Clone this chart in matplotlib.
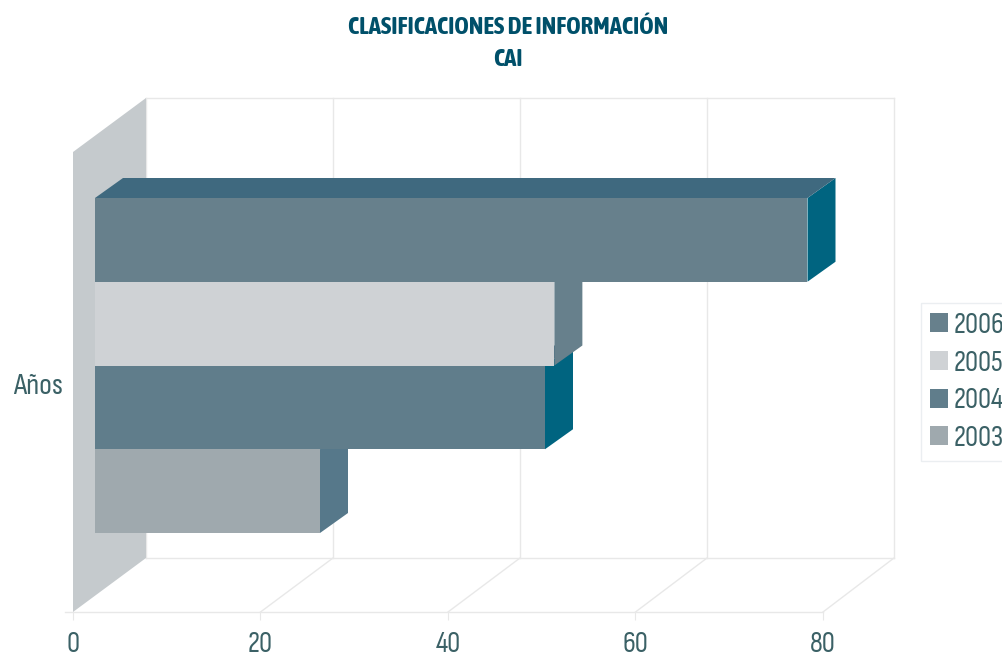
import matplotlib
matplotlib.use("Agg")
import logging
logging.getLogger("matplotlib.font_manager").setLevel(logging.ERROR)
import matplotlib.pyplot as plt
from matplotlib.patches import Polygon, Patch

years = ["2003", "2004", "2005", "2006"]
values = [24, 48, 49, 76]
front_colors = ["#9fa9ae", "#607d8b", "#cfd2d5", "#67808c"]
side_colors = ["#56788a", "#006480", "#67808c", "#006480"]
top_color = "#3f697f"
wall_color = "#c5cacd"
grid_color = "#e8e8e8"
text_color = "#3b6166"
title_color = "#00506a"
x_ticks = [0, 20, 40, 60, 80]
category_label = "Años"
title_lines = ["CLASIFICACIONES DE INFORMACIÓN", "CAI"]

W, H = 1003, 656
FONT = ["Sofia Sans Condensed", "Roboto Condensed", "Liberation Sans", "DejaVu Sans"]
TITLE_FONT = ["Asap Condensed", "Roboto Condensed", "Liberation Sans", "DejaVu Sans"]
fig = plt.figure(figsize=(W / 100, H / 100), dpi=100, facecolor="white")
ax = fig.add_axes([73 / W, 1 - 612 / H, 750 / W, 514 / H])
BAND = 83.75
UX = 750 / 80
ax.set_xlim(0, 80)
ax.set_ylim(-(612 - 533) / BAND, (533 - 98) / BAND)
for s in ax.spines.values():
    s.set_visible(False)

start = 22 / UX
dx, dy = 28 / UX, 20 / BAND
fdx, fdy = 73 / UX, 54 / BAND
y_floor, y_top = ax.get_ylim()
ytop_front = y_top - fdy

def poly(pts, color, z):
    ax.add_patch(Polygon(pts, closed=True, fc=color, ec="none", clip_on=False, zorder=z))

def gl(xs, ys):
    ax.plot(xs, ys, color=grid_color, lw=1, clip_on=False, zorder=1)

def back(t):
    return t * 748 / 750 + fdx

# walls, floor and grid
poly([(0, y_floor), (fdx, y_floor + fdy), (fdx, y_top), (0, ytop_front)], wall_color, 2)
gl([fdx, back(80)], [y_floor + fdy] * 2)
gl([fdx, back(80)], [y_top] * 2)
gl([-8 / UX, 80], [y_floor] * 2)
for t in x_ticks:
    gl([back(t), back(t)], [y_floor + fdy, y_top])
    if t:
        gl([t, back(t)], [y_floor, y_floor + fdy])

# bars, lowest first so that upper bars overlap
for i, (v, fc, sc) in enumerate(zip(values, front_colors, side_colors)):
    z = 3 + i
    end = start + v
    poly([(end, i), (end + dx, i + dy), (end + dx, i + 1 + dy), (end, i + 1)], sc, z)
    poly([(start, i + 1), (start + dx, i + 1 + dy), (end + dx, i + 1 + dy), (end, i + 1)], top_color, z)
    poly([(start, i), (end, i), (end, i + 1), (start, i + 1)], fc, z + 0.5)

ax.set_xticks(x_ticks)
ax.set_yticks([(533 - 383) / BAND])
ax.set_yticklabels([category_label])
ax.tick_params(axis="x", length=6, color=grid_color, labelcolor=text_color, labelsize=21, pad=8)
ax.tick_params(axis="y", length=0, labelcolor=text_color, labelsize=22, pad=7)
for lab in ax.get_xticklabels() + ax.get_yticklabels():
    lab.set_family(FONT)

for line, py in zip(title_lines, [28, 60]):
    fig.text(508 / W, 1 - py / H, line, ha="center", va="center", color=title_color,
             family=TITLE_FONT, fontsize=17.8, fontweight="bold")

handles = [Patch(fc=c, ec="none", label=y) for y, c in zip(years[::-1], front_colors[::-1])]
leg = fig.legend(handles=handles, loc="upper left", bbox_to_anchor=(921 / W, 1 - 303 / H),
                 prop={"family": FONT, "size": 21}, labelcolor=text_color, frameon=True,
                 fancybox=False, edgecolor="#e6eaee", facecolor="white", handlelength=0.62,
                 handleheight=0.62, handletextpad=0.2, labelspacing=0.37, borderpad=0.3,
                 borderaxespad=0)
leg.get_frame().set_linewidth(1)
fig.savefig("out.png", dpi=100)
